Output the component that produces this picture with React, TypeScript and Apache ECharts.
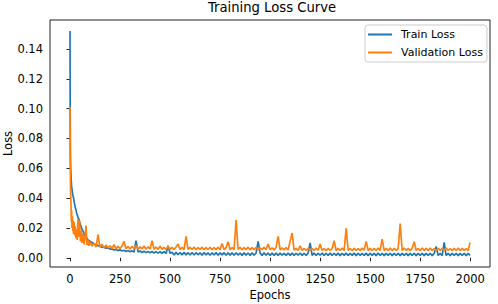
import React, { useEffect, useRef } from "react";
import * as echarts from "echarts";

const epochs: number[] = [
  0, 1, 2, 3, 4, 5, 6, 7, 8, 10, 12, 14, 16, 18, 20, 23, 26, 30, 33, 36, 40, 44, 48, 52, 56, 60, 65, 70, 75, 80, 85, 90, 95, 100,
  110, 120, 130, 140, 150, 160, 170, 180, 190, 200,
  210, 220, 230, 240, 250, 260, 270, 280, 290, 300,
  310, 320, 330, 340, 350, 360, 370, 380, 390, 400,
  410, 420, 430, 440, 450, 460, 470, 480, 490, 500,
  510, 520, 530, 540, 550, 560, 570, 580, 590, 600,
  610, 620, 630, 640, 650, 660, 670, 680, 690, 700,
  710, 720, 730, 740, 750, 760, 770, 780, 790, 800,
  810, 820, 830, 840, 850, 860, 870, 880, 890, 900,
  910, 920, 930, 940, 950, 960, 970, 980, 990, 1000,
  1010, 1020, 1030, 1040, 1050, 1060, 1070, 1080, 1090, 1100,
  1110, 1120, 1130, 1140, 1150, 1160, 1170, 1180, 1190, 1200,
  1210, 1220, 1230, 1240, 1250, 1260, 1270, 1280, 1290, 1300,
  1310, 1320, 1330, 1340, 1350, 1360, 1370, 1380, 1390, 1400,
  1410, 1420, 1430, 1440, 1450, 1460, 1470, 1480, 1490, 1500,
  1510, 1520, 1530, 1540, 1550, 1560, 1570, 1580, 1590, 1600,
  1610, 1620, 1630, 1640, 1650, 1660, 1670, 1680, 1690, 1700,
  1710, 1720, 1730, 1740, 1750, 1760, 1770, 1780, 1790, 1800,
  1810, 1820, 1830, 1840, 1850, 1860, 1870, 1880, 1890, 1900,
  1910, 1920, 1930, 1940, 1950, 1960, 1970, 1980, 1990, 1999,
];

const trainLoss: number[] = [
  0.152, 0.095, 0.068, 0.062, 0.058, 0.055, 0.052, 0.05, 0.048, 0.046, 0.044, 0.042, 0.041, 0.04, 0.038, 0.036, 0.034,
  0.032, 0.03, 0.029, 0.027, 0.026, 0.024, 0.022, 0.021, 0.019, 0.018, 0.016, 0.015, 0.014, 0.013, 0.012, 0.0115, 0.011,
  0.0102, 0.0092, 0.0088, 0.008, 0.008, 0.007, 0.0072, 0.0064, 0.0066, 0.0058,
  0.006, 0.0052, 0.0056, 0.0048, 0.0053, 0.0045, 0.005, 0.0042, 0.0048, 0.004,
  0.0046, 0.0038, 0.0114, 0.0039, 0.0045, 0.0035, 0.0044, 0.0034, 0.0043, 0.0033,
  0.0042, 0.0032, 0.0041, 0.0031, 0.004, 0.003, 0.0041, 0.0029, 0.008, 0.003,
  0.0037, 0.0019, 0.0036, 0.002, 0.0035, 0.0018, 0.0036, 0.0019, 0.0034, 0.0018,
  0.0035, 0.0018, 0.0034, 0.002, 0.0033, 0.0017, 0.0035, 0.0019, 0.0033, 0.0017,
  0.0034, 0.0018, 0.0035, 0.0017, 0.0033, 0.0019, 0.0034, 0.0017, 0.0033, 0.0018,
  0.0033, 0.0017, 0.0034, 0.0018, 0.0032, 0.0016, 0.0033, 0.0018, 0.0032, 0.0016,
  0.0033, 0.0017, 0.0032, 0.011, 0.0032, 0.0016, 0.0033, 0.0017, 0.0032, 0.0016,
  0.0031, 0.0016, 0.0032, 0.0015, 0.0031, 0.0017, 0.003, 0.0015, 0.0032, 0.0016,
  0.0031, 0.0015, 0.003, 0.0017, 0.0032, 0.0015, 0.003, 0.0016, 0.0031, 0.0099,
  0.0016, 0.0031, 0.0015, 0.003, 0.0017, 0.0031, 0.0015, 0.003, 0.0016, 0.0031,
  0.0015, 0.003, 0.0016, 0.0031, 0.0014, 0.003, 0.0016, 0.0031, 0.0015, 0.0029,
  0.0016, 0.0031, 0.0014, 0.003, 0.0016, 0.0029, 0.0015, 0.0031, 0.0014, 0.003,
  0.0016, 0.0029, 0.0014, 0.0031, 0.0015, 0.003, 0.0014, 0.0029, 0.0016, 0.003,
  0.0014, 0.0029, 0.0015, 0.003, 0.0014, 0.0029, 0.0016, 0.003, 0.0014, 0.0029,
  0.0015, 0.003, 0.0014, 0.0029, 0.0015, 0.003, 0.0014, 0.0029, 0.0015, 0.003,
  0.0014, 0.0029, 0.0075, 0.0015, 0.0029, 0.0014, 0.0103, 0.0015, 0.0029, 0.0014,
  0.0029, 0.0015, 0.003, 0.0014, 0.0029, 0.0015, 0.003, 0.0014, 0.0029, 0.0015,
];

const valLoss: number[] = [
  0.101, 0.072, 0.055, 0.045, 0.04, 0.036, 0.03, 0.024, 0.032, 0.02, 0.028, 0.018, 0.025, 0.016, 0.024, 0.015, 0.021,
  0.013, 0.019, 0.012, 0.026, 0.014, 0.025, 0.011, 0.018, 0.01, 0.016, 0.009, 0.013, 0.0215, 0.0085, 0.012, 0.008, 0.0105,
  0.0078, 0.0098, 0.0072, 0.0155, 0.007, 0.009, 0.0066, 0.0085, 0.0065, 0.008,
  0.0062, 0.0088, 0.0061, 0.0077, 0.0062, 0.0079, 0.011, 0.006, 0.0075, 0.0059,
  0.0076, 0.006, 0.0084, 0.0058, 0.0073, 0.0059, 0.0079, 0.0057, 0.0074, 0.0058,
  0.0114, 0.0057, 0.0071, 0.0056, 0.0077, 0.0057, 0.0069, 0.0056, 0.0075, 0.0056,
  0.0069, 0.0055, 0.0072, 0.0092, 0.0056, 0.0069, 0.0055, 0.0143, 0.0056, 0.007,
  0.0055, 0.0072, 0.0054, 0.0068, 0.0056, 0.0071, 0.0054, 0.0068, 0.0055, 0.007,
  0.0054, 0.0068, 0.0055, 0.0071, 0.0054, 0.0096, 0.0055, 0.0068, 0.0107, 0.0054,
  0.0068, 0.0054, 0.0253, 0.0055, 0.007, 0.0053, 0.0068, 0.0055, 0.0071, 0.0053,
  0.0068, 0.0054, 0.007, 0.0053, 0.0067, 0.0055, 0.0071, 0.0053, 0.0092, 0.0054,
  0.0067, 0.0053, 0.0069, 0.0143, 0.0052, 0.0066, 0.0053, 0.0069, 0.0052, 0.011,
  0.0166, 0.0051, 0.0063, 0.005, 0.008, 0.005, 0.0062, 0.0049, 0.0064, 0.005,
  0.0062, 0.0049, 0.0065, 0.005, 0.0092, 0.0049, 0.0062, 0.0048, 0.0064, 0.0049,
  0.0062, 0.0114, 0.0048, 0.0063, 0.0049, 0.0065, 0.0048, 0.0197, 0.0049, 0.0062,
  0.0048, 0.0064, 0.0049, 0.0062, 0.0048, 0.0065, 0.005, 0.011, 0.0048, 0.0063,
  0.0049, 0.0064, 0.0048, 0.0066, 0.0049, 0.0125, 0.0048, 0.0063, 0.0049, 0.0065,
  0.0048, 0.0064, 0.0049, 0.0062, 0.023, 0.0048, 0.0065, 0.0049, 0.0063, 0.0048,
  0.0064, 0.0107, 0.0049, 0.0062, 0.0048, 0.0065, 0.0049, 0.0063, 0.0048, 0.0066,
  0.0049, 0.0062, 0.0048, 0.0064, 0.0049, 0.0063, 0.0048, 0.0065, 0.0049, 0.0062,
  0.0048, 0.0064, 0.0049, 0.0066, 0.0048, 0.0063, 0.0049, 0.0062, 0.0048, 0.0103,
];

const xTicks: number[] = [0, 250, 500, 750, 1000, 1250, 1500, 1750, 2000];
const yTicks: number[] = [0, 0.02, 0.04, 0.06, 0.08, 0.1, 0.12, 0.14];

const FONT = "DejaVu Sans";

export default function App() {
  const ref = useRef<HTMLDivElement>(null);
  useEffect(() => {
    if (!ref.current) return;
    const chart = echarts.init(ref.current, undefined, { renderer: "svg" });
    const pairs = (vals: number[]) => epochs.map((e, i) => [e, vals[i]]);
    chart.setOption({
      animation: false,
      backgroundColor: "#ffffff",
      title: {
        text: "Training Loss Curve",
        left: 272,
        top: 1,
        padding: 0,
        textAlign: "center",
        textStyle: { fontFamily: FONT, fontSize: 13.2, fontWeight: "normal", color: "#000" },
      },
      legend: {
        orient: "vertical",
        left: 365,
        top: 25,
        padding: [3, 4, 3, 3],
        itemWidth: 24,
        itemHeight: 2,
        itemGap: 5,
        icon: "rect",
        backgroundColor: "rgba(255,255,255,0.8)",
        borderColor: "#cccccc",
        borderWidth: 1,
        borderRadius: 3,
        textStyle: { fontFamily: FONT, fontSize: 11, color: "#000", lineHeight: 13, padding: [0, 0, 0, 4] },
        data: ["Train Loss", "Validation Loss"],
      },
      grid: {
        left: 50,
        right: 8,
        top: 20,
        bottom: 37,
        containLabel: false,
        outerBoundsMode: "none",
        show: true,
        borderColor: "#222",
        borderWidth: 1,
        backgroundColor: "transparent",
      },
      xAxis: {
        type: "value",
        min: -99.95,
        max: 2098.95,
        name: "Epochs",
        nameLocation: "middle",
        nameGap: 22,
        nameMoveOverlap: false,
        nameTextStyle: { fontFamily: FONT, fontSize: 11.5, color: "#000" },
        axisLine: { show: false },
        axisTick: { show: true, length: 3.5, lineStyle: { color: "#222" }, customValues: xTicks },
        axisLabel: {
          fontFamily: FONT,
          fontSize: 11.5,
          color: "#000",
          margin: 6,
          customValues: xTicks,
          formatter: (v: number) => String(v),
        },
        splitLine: { show: false },
      },
      yAxis: {
        type: "value",
        min: -0.0062,
        max: 0.1594,
        name: "Loss",
        nameLocation: "middle",
        nameGap: 36,
        nameMoveOverlap: false,
        nameTextStyle: { fontFamily: FONT, fontSize: 11.5, color: "#000" },
        axisLine: { show: false },
        axisTick: { show: true, length: 3.5, lineStyle: { color: "#222" }, customValues: yTicks },
        axisLabel: {
          fontFamily: FONT,
          fontSize: 11.5,
          color: "#000",
          margin: 7,
          customValues: yTicks,
          formatter: (v: number) => v.toFixed(2),
        },
        splitLine: { show: false },
      },
      series: [
        {
          name: "Train Loss",
          type: "line",
          data: pairs(trainLoss),
          showSymbol: false,
          symbol: "none",
          lineStyle: { width: 1.7, color: "#1f77b4" },
          itemStyle: { color: "#1f77b4" },
        },
        {
          name: "Validation Loss",
          type: "line",
          data: pairs(valLoss),
          showSymbol: false,
          symbol: "none",
          lineStyle: { width: 1.7, color: "#ff7f0e" },
          itemStyle: { color: "#ff7f0e" },
        },
      ],
    });
    return () => chart.dispose();
  }, []);
  return <div ref={ref} style={{ position: "absolute", left: 0, top: 0, width: 498, height: 304 }} />;
}
